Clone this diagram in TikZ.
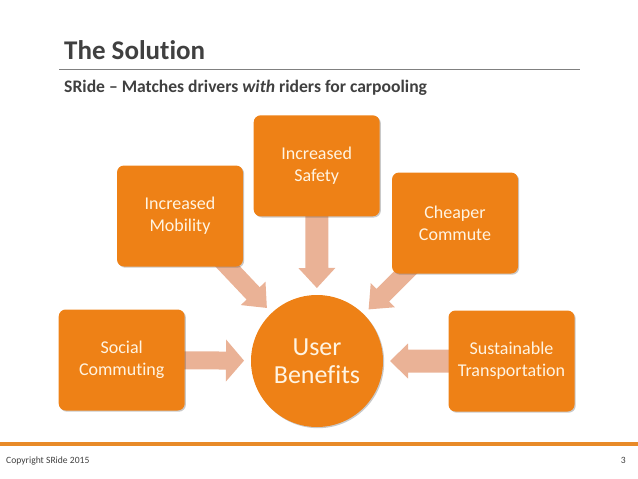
\documentclass[tikz,border=0pt]{standalone}
\usepackage{fontspec}
\setmainfont[Ligatures={NoCommon,NoContextual},RawFeature={-liga;-clig;-dlig}]{Carlito}
\usetikzlibrary{calc,shadows,backgrounds}
\definecolor{boxor}{RGB}{238,129,22}
\definecolor{arrowc}{RGB}{234,178,150}
\definecolor{txtc}{RGB}{255,244,226}
\definecolor{darkg}{RGB}{64,64,64}
\definecolor{footor}{RGB}{232,138,40}
\definecolor{rulec}{RGB}{128,128,128}
\newcommand\fatarrow[5]{% #1 tail, #2 tip, #3 half shaft, #4 half head, #5 head length
  \coordinate (hb) at ($(#2)!#5!(#1)$);
  \fill[arrowc] ($(#1)!#3!90:(#2)$) -- ($(hb)!#3!90:(#2)$) -- ($(hb)!#4!90:(#2)$) -- (#2)
    -- ($(hb)!#4!-90:(#2)$) -- ($(hb)!#3!-90:(#2)$) -- ($(#1)!#3!-90:(#2)$) -- cycle;}
\tikzset{
  benbox/.style={rectangle, rounded corners=7pt, fill=boxor, text=txtc,
    minimum width=126pt, minimum height=101pt, align=center, inner sep=2pt,
    font=\fontsize{18}{22}\selectfont,
    drop shadow={shadow xshift=1.2pt, shadow yshift=-1.2pt, opacity=0.3, fill=black!70}},
  hubnode/.style={circle, fill=boxor, text=txtc, minimum size=132pt, inner sep=0pt,
    align=center, font=\fontsize{26}{28}\selectfont,
    drop shadow={shadow xshift=1.2pt, shadow yshift=-1.2pt, opacity=0.3, fill=black!70}},
}
\begin{document}
\begin{tikzpicture}[x=1pt,y=-1pt]
\useasboundingbox (0,0) rectangle (638,479);
% header
\node[anchor=base west, inner sep=0pt, text=darkg, font=\fontsize{27}{32}\selectfont\bfseries] (title) at (64,59) {The Solution};
\draw[rulec, line width=1pt] (59,69.5) -- (580,69.5);
\node[anchor=base west, inner sep=0pt, text=darkg, font=\fontsize{17.6}{20}\selectfont\bfseries] (sub) at (64,92) {SRide – Matches drivers \textit{with} riders for carpooling};
% nodes
\node[hubnode] (ub) at (317,361) {User\\Benefits};
\node[benbox] (soc) at (121.7,360) {Social\\Commuting};
\node[benbox] (mob) at (180,216) {Increased\\Mobility};
\node[benbox] (saf) at (316.7,165.8) {Increased\\Safety};
\node[benbox] (che) at (455,223) {Cheaper\\Commute};
\node[benbox] (sus) at (511.5,361) {Sustainable\\Transportation};
% arrows
\begin{pgfonlayer}{background}
\coordinate (tsoc) at ($(ub)!73pt!(soc)$);
\coordinate (tmob) at ($(ub)!73pt!(mob)$);
\coordinate (tsaf) at ($(ub)!73pt!(saf)$);
\coordinate (tche) at ($(ub)!73pt!(che)$);
\coordinate (tsus) at ($(ub)!73pt!(sus)$);
\fatarrow{soc}{tsoc}{9pt}{21pt}{18pt}
\fatarrow{mob}{tmob}{9pt}{17pt}{20pt}
\fatarrow{saf}{tsaf}{11.5pt}{18.5pt}{20pt}
\fatarrow{che}{tche}{9pt}{17pt}{20pt}
\fatarrow{sus}{tsus}{11.5pt}{17.5pt}{18pt}
\end{pgfonlayer}
% footer
\fill[footor] (0,441.5) rectangle (638,445.5);
\node[anchor=base west, inner sep=0pt, text=darkg, font=\fontsize{9.6}{12}\selectfont] (copy) at (6,463) {Copyright SRide 2015};
\node[anchor=base east, inner sep=0pt, text=darkg, font=\fontsize{9.6}{12}\selectfont] (pnum) at (626,463) {3};
\end{tikzpicture}
\end{document}
